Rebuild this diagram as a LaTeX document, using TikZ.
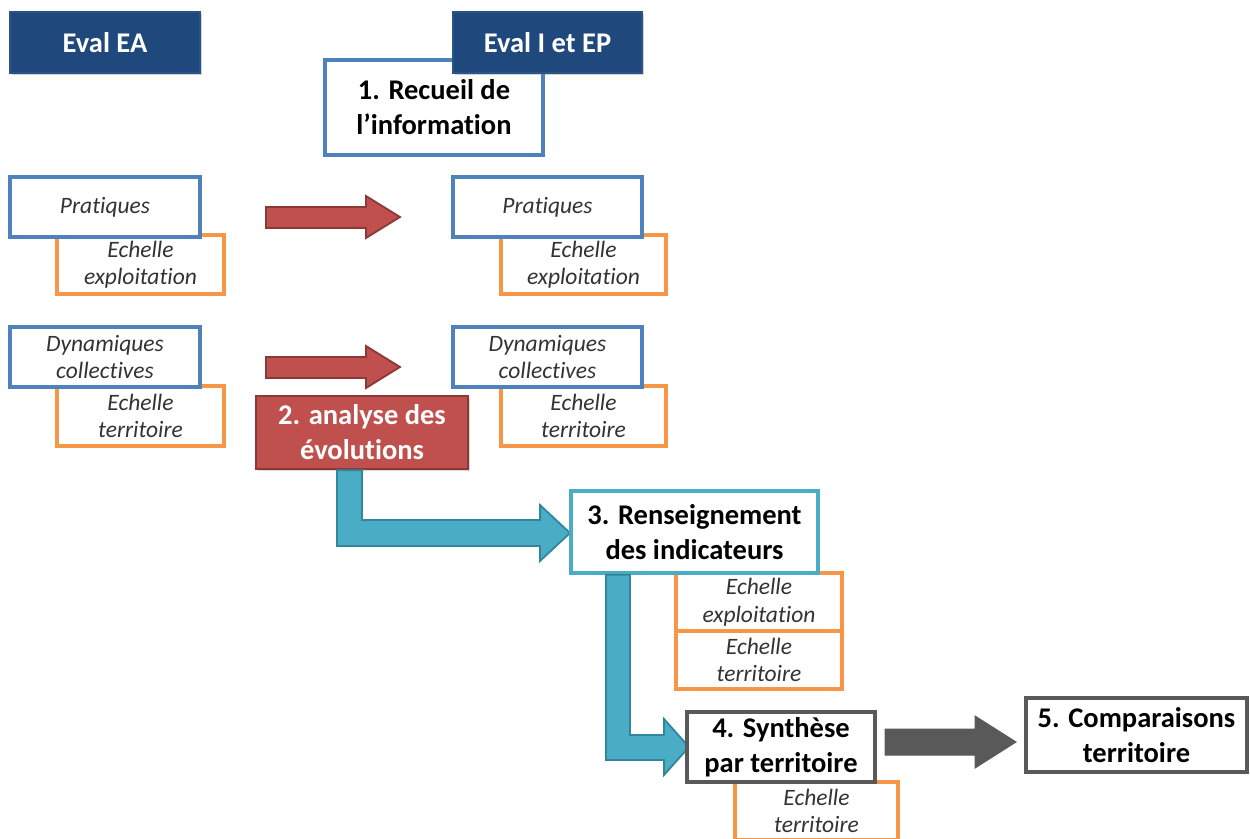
\documentclass[tikz,border=0pt]{standalone}
\usepackage{fontspec}
\setmainfont{Carlito}[Ligatures=NoCommon]
\usetikzlibrary{shadows,calc}
\definecolor{dkblue}{HTML}{1F497D}
\definecolor{dkblueb}{HTML}{2B5486}
\definecolor{mblue}{HTML}{4F81BD}
\definecolor{orng}{HTML}{F79646}
\definecolor{redf}{HTML}{C0504D}
\definecolor{redb}{HTML}{8C3836}
\definecolor{tealf}{HTML}{4BACC6}
\definecolor{tealb}{HTML}{31859C}
\definecolor{gryb}{HTML}{595959}
\tikzset{
  box/.style={rectangle, inner sep=0pt, align=center},
  bigtxt/.style={font=\fontsize{28.5}{35}\selectfont\bfseries},
  smalltxt/.style={font=\fontsize{23.5}{27.5}\selectfont\itshape, text=black!80},
  hdr/.style={box, bigtxt, fill=dkblue, draw=dkblueb, line width=1.5pt, text=white,
     drop shadow={shadow xshift=2pt, shadow yshift=-2pt, opacity=0.35}},
  bluebox/.style={box, smalltxt, fill=white, draw=mblue, line width=3.4pt},
  orbox/.style={box, smalltxt, fill=white, draw=orng, line width=3.4pt},
  stepbox/.style={box, bigtxt, fill=white, line width=3.4pt},
  redarrow/.style={fill=redf, draw=redb, line width=1.8pt, line join=miter},
  tealarrow/.style={fill=tealf, draw=tealb, line width=1.8pt, line join=miter},
  grayarrow/.style={fill=gryb, draw=gryb, line width=1pt, line join=miter},
}
\begin{document}
\begin{tikzpicture}[x=1pt,y=-1pt]
\useasboundingbox (0,0) rectangle (1250,838);
\clip (0,0) rectangle (1250,838);
% headers
\node[hdr, minimum width=190pt, minimum height=61pt] (ea) at (105,42.5) {Eval EA};
\node[stepbox, draw=mblue, minimum width=218pt, minimum height=95pt] (rec) at (434,107.5) {1. Recueil de\\l’information};
\node[hdr, minimum width=189pt, minimum height=61pt] (eiep) at (547.5,42.5) {Eval I et EP};
% left column
\node[orbox, minimum width=167pt, minimum height=59pt] (eL) at (140.5,264.5) {Echelle\\exploitation};
\node[bluebox, minimum width=190pt, minimum height=60pt] (pL) at (105,207) {Pratiques};
\node[orbox, minimum width=167pt, minimum height=60pt] (tL) at (140.5,416) {Echelle\\territoire};
\node[bluebox, minimum width=190pt, minimum height=60pt] (dL) at (105,357) {Dynamiques\\collectives};
% right column
\node[orbox, minimum width=165pt, minimum height=59pt] (eR) at (583.5,264.5) {Echelle\\exploitation};
\node[bluebox, minimum width=189pt, minimum height=60pt] (pR) at (547.5,207) {Pratiques};
\node[orbox, minimum width=165pt, minimum height=60pt] (tR) at (583.5,416) {Echelle\\territoire};
\node[bluebox, minimum width=189pt, minimum height=60pt] (dR) at (547.5,357) {Dynamiques\\collectives};
% red arrows
\draw[redarrow] (266,207) -- (366,207) -- (366,196) -- (400,217) -- (366,238) -- (366,228) -- (266,228) -- cycle;
\draw[redarrow] (266,357) -- (366,357) -- (366,346) -- (400,367) -- (366,388) -- (366,378) -- (266,378) -- cycle;
% step 2
\node[box, bigtxt, fill=redf, draw=redb, line width=2.5pt, text=white, minimum width=212pt, minimum height=73pt,
  drop shadow={shadow xshift=2pt, shadow yshift=-2pt, opacity=0.3}] (an) at (362,432.5) {2. analyse des\\évolutions};
% teal bent arrow 1
\draw[tealarrow] (an.south -| 337,0) -- (an.south -| 362,0) -- (362,520) -- (540,520) -- (540,505) -- (570,533) -- (540,561) -- (540,546) -- (337,546) -- cycle;
% step 3
\node[orbox, minimum width=166pt, minimum height=58pt] (e3a) at (759,602) {Echelle\\exploitation};
\node[orbox, minimum width=166pt, minimum height=58pt] (e3b) at (759,660) {Echelle\\territoire};
\node[stepbox, draw=tealf, minimum width=247pt, minimum height=82pt] (ren) at (694.5,532) {3. Renseignement\\des indicateurs};
% teal bent arrow 2
\draw[tealarrow] (ren.south -| 606,0) -- (ren.south -| 630,0) -- (630,735) -- (664,735) -- (664,719) -- (689,747) -- (664,775) -- (664,760) -- (606,760) -- cycle;
% step 4
\node[orbox, minimum width=163pt, minimum height=58pt] (e4) at (816.5,811) {Echelle\\territoire};
\node[stepbox, draw=gryb, line width=3.8pt, minimum width=188pt, minimum height=70pt] (syn) at (781,747) {4. Synthèse\\par territoire};
% gray arrow
\draw[grayarrow] (885,729) -- (975,729) -- (975,716) -- (1016,742) -- (975,768) -- (975,755) -- (885,755) -- cycle;
% step 5
\node[stepbox, draw=gryb, line width=3.8pt, minimum width=221pt, minimum height=74pt] (comp) at (1136.5,735) {5. Comparaisons\\territoire};
\end{tikzpicture}
\end{document}
